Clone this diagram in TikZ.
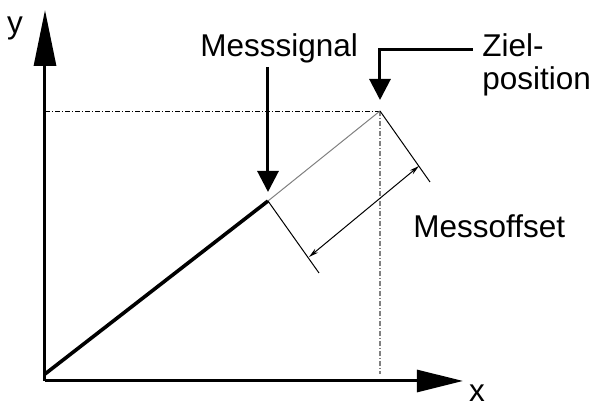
\documentclass[tikz,border=0pt]{standalone}
\usepackage{fontspec}
\setmainfont{Liberation Sans}
\usepackage{tikz}
\usetikzlibrary{positioning, arrows.meta}

\begin{document}
\begin{tikzpicture}[
        x=0.5pt, y=-0.5pt,
        every node/.style={inner sep=0pt, font=\fontsize{15.75}{16.5}\selectfont},
        axis/.style={line width=1.5pt, -{Triangle[length=#1, width=11pt]}},
        pointer/.style={line width=1.5pt, -{Triangle[length=10.5pt, width=10.5pt]}},
        signal/.style={line width=1.8pt},
        guide/.style={line width=0.4pt, dash pattern=on 2.5pt off 1pt on 0.5pt off 1pt},
        extension/.style={line width=0.5pt},
        dimension/.style={line width=0.5pt, {Stealth[length=5pt, width=2.5pt]}-{Stealth[length=5pt, width=2.5pt]}}
    ]
    \useasboundingbox (0,0) rectangle (591,405);

    % Axes
    \coordinate (origin) at (45,381);
    \coordinate (ytip) at (45,10);
    \coordinate (xtip) at (463,381);
    \draw[axis=28pt] (origin) -- (ytip);
    \draw[axis=23pt] (origin) -- (xtip);
    \node (ylabel) at (15,28) {y};
    \node (xlabel) at (477,393) {x};

    % Points on the signal line
    \coordinate (start) at (45,374);
    \coordinate (mess) at (268,201);
    \coordinate (ziel) at (380,111);

    % Guide lines to the axes
    \draw[guide] (ziel) -- (ziel -| origin);
    \draw[guide, gray, line width=0.7pt] (ziel) -- (380,374);

    % Signal and its continuation
    \draw[signal] (start) -- (mess);
    \draw[extension, gray] (mess) -- (ziel);

    % Offset dimension
    \coordinate (messext) at (319,273);
    \coordinate (zielext) at (430,182);
    \draw[extension] (mess) -- (messext);
    \draw[extension] (ziel) -- (zielext);
    \coordinate (dimA) at (309,257);
    \coordinate (dimB) at (419,166);
    \draw[dimension] (dimA) -- (dimB);
    \node[anchor=base west] (offset) at (413,238) {Messoffset};

    % Labels with pointers
    \node[anchor=base west] (signallabel) at (200,57) {Messsignal};
    \draw[pointer, shorten >=4.5pt] (signallabel.south -| mess) ++(0,3) -- (mess);

    \node[anchor=base west, align=left] (ziellabel) at (482,90) {Ziel-\\position};
    \coordinate (zielbend) at (473,50);
    \draw[pointer, shorten >=5.5pt] (zielbend) -| (ziel);

\end{tikzpicture}
\end{document}
